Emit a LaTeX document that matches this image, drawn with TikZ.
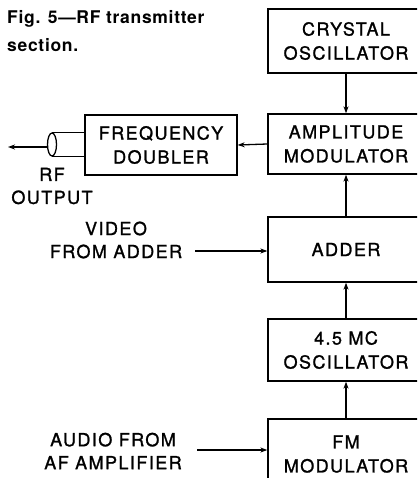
\documentclass[tikz,border=0pt]{standalone}
\usepackage{fontspec}
\newfontfamily\lbl{TeX Gyre Heros}[LetterSpace=8,FakeBold=1.3]
\newfontfamily\ttl{TeX Gyre Heros}[LetterSpace=4]
\usetikzlibrary{arrows.meta,shapes.geometric}
\begin{document}
\begin{tikzpicture}[x=1pt,y=1pt,
  blk/.style={draw, line width=1.3pt, minimum width=156pt, inner sep=0pt, align=center,
    font={\lbl\fontsize{18}{24}\selectfont}},
  txt/.style={inner sep=0pt, align=center, font={\lbl\fontsize{18}{23}\selectfont}},
  conn/.style={line width=1.3pt, -{Stealth[length=7pt,width=5pt]}},
  wire/.style={line width=1.3pt}]
\useasboundingbox (0,0) rectangle (417,-478);
\clip (0,0) rectangle (417,-478);
\node[anchor=north west, inner sep=0pt, align=left, font={\ttl\bfseries\fontsize{17.5}{28}\selectfont}] (title) at (7,-10) {Fig. 5—RF transmitter\\section.};
\node[blk, minimum height=64pt] (xo) at (346,-41) {CRYSTAL\\OSCILLATOR};
\node[blk, minimum height=60pt] (am) at (346,-144) {AMPLITUDE\\MODULATOR};
\node[draw, line width=1.3pt, minimum width=152pt, minimum height=60pt, inner sep=0pt, align=center,
    font={\lbl\fontsize{18}{24}\selectfont}] (fd) at (161,-145) {FREQUENCY\\DOUBLER};
\node[blk, minimum height=65pt] (add) at (346,-249.5) {ADDER};
\node[blk, minimum height=62pt] (osc) at (346,-350) {4.5 MC\\OSCILLATOR};
\node[blk, minimum height=70pt] (fm) at (346,-454) {FM\\MODULATOR};
\node[draw, line width=1.3pt, ellipse, minimum width=9pt, minimum height=23pt, inner sep=0pt] (coax) at (52,-144.5) {};
\coordinate (rfend) at (8,-147);
\node[txt] (rf) at (52,-186) {RF\\OUTPUT};
\node[txt] (video) at (116,-240) {VIDEO\\FROM ADDER};
\node[txt] (audio) at (113,-451) {AUDIO FROM\\AF AMPLIFIER};
\coordinate (vstart) at (195,-251);
\coordinate (astart) at (197,-450);
\draw[conn] (xo.south) -- (am.north);
\draw[conn] (am.west) -- (fd.east);
\draw[conn] (add.north) -- (am.south);
\draw[conn] (osc.north) -- (add.south);
\draw[conn] (fm.north) -- (osc.north |- osc.south);
\draw[conn] (vstart) -- (vstart -| add.west);
\draw[conn] (astart) -- (astart -| fm.west);
\draw[wire] (coax.north) -- (coax.north -| fd.west);
\draw[wire] (coax.south) -- (coax.south -| fd.west);
\draw[conn] (coax.west |- rfend) -- (rfend);
\end{tikzpicture}
\end{document}
